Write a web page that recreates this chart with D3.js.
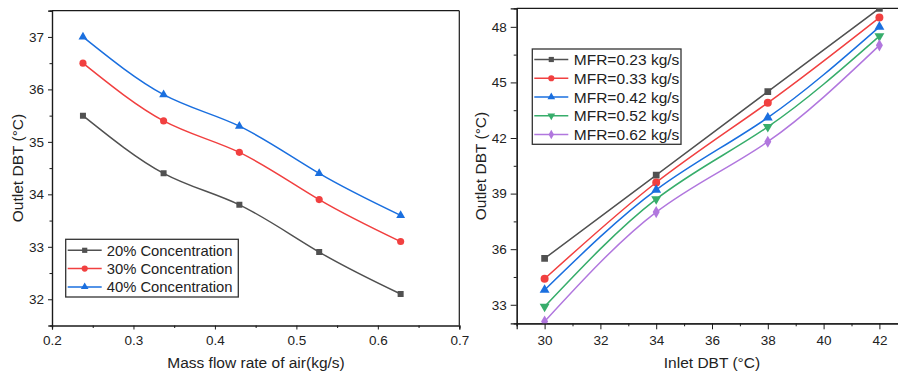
<!DOCTYPE html>
<html>
<head>
<meta charset="utf-8">
<script src="https://cdn.jsdelivr.net/npm/d3@7"></script>
<style>
  body { margin: 0; background: #fff; }
  svg { display: block; font-family: Arial, "Liberation Sans", sans-serif; }
</style>
</head>
<body>
<svg width="898" height="373"></svg>
<script>
// left panel data: outlet DBT vs mass flow rate
const flowRates = [0.238, 0.337, 0.43, 0.528, 0.628];
const conc20 = [35.5, 34.4, 33.8, 32.9, 32.1];
const conc30 = [36.5, 35.4, 34.8, 33.9, 33.1];
const conc40 = [37.0, 35.9, 35.3, 34.4, 33.6];
const concLabels = ["20% Concentration", "30% Concentration", "40% Concentration"];

// right panel data: outlet DBT vs inlet DBT
const inletDBT = [30, 34, 38, 42];
const mfr023 = [35.5, 40.0, 44.5, 49.0];
const mfr033 = [34.4, 39.6, 43.9, 48.5];
const mfr042 = [33.8, 39.2, 43.1, 48.0];
const mfr052 = [32.9, 38.7, 42.6, 47.5];
const mfr062 = [32.1, 38.0, 41.8, 47.0];
const mfrLabels = ["MFR=0.23 kg/s", "MFR=0.33 kg/s", "MFR=0.42 kg/s", "MFR=0.52 kg/s", "MFR=0.62 kg/s"];

const colors = ["#515151", "#f14040", "#1a6fdf", "#37ad6b", "#b177de"];
const symbols = [
  { type: d3.symbolSquare, size: 36, rot: 0 },
  { type: d3.symbolCircle, size: 40, rot: 0 },
  { type: d3.symbolTriangle, size: 34, rot: 0 },
  { type: d3.symbolTriangle, size: 34, rot: 180 },
  { type: d3.symbolDiamond, size: 34, rot: 0 }
];

const svg = d3.select("svg");
const axisColor = "#1a1a1a";
const textColor = "#222";

function drawPanel(cfg) {
  const x = d3.scaleLinear().domain(cfg.xDomain).range([cfg.left, cfg.right]);
  const y = d3.scaleLinear().domain(cfg.yDomain).range([cfg.bottom, cfg.top]);
  const g = svg.append("g");

  // clip for markers / lines
  g.append("clipPath").attr("id", cfg.id + "-clip")
    .append("rect")
    .attr("x", cfg.left).attr("y", cfg.top)
    .attr("width", cfg.right - cfg.left).attr("height", cfg.bottom - cfg.top);

  // frame (top + right)
  g.append("line")
    .attr("x1", cfg.left).attr("x2", cfg.right)
    .attr("y1", cfg.top).attr("y2", cfg.top)
    .attr("stroke", axisColor).attr("stroke-width", 1.2);
  g.append("line")
    .attr("x1", cfg.right).attr("x2", cfg.right)
    .attr("y1", cfg.top).attr("y2", cfg.bottom)
    .attr("stroke", axisColor).attr("stroke-width", 1.2);

  // minor ticks
  const xAxisMinor = d3.axisBottom(x).tickValues(cfg.xMinor).tickSize(cfg.minorLen).tickFormat("");
  const yAxisMinor = d3.axisLeft(y).tickValues(cfg.yMinor).tickSize(cfg.minorLen).tickFormat("");
  g.append("g").attr("transform", "translate(0," + cfg.bottom + ")").call(xAxisMinor);
  g.append("g").attr("transform", "translate(" + cfg.left + ",0)").call(yAxisMinor);

  // major axes
  const xAxis = d3.axisBottom(x).tickValues(cfg.xTicks).tickSize(cfg.majorLen).tickPadding(6).tickFormat(cfg.xFormat);
  const yAxis = d3.axisLeft(y).tickValues(cfg.yTicks).tickSize(cfg.majorLen).tickPadding(4).tickFormat(d3.format("d"));
  g.append("g").attr("transform", "translate(0," + cfg.bottom + ")").call(xAxis);
  g.append("g").attr("transform", "translate(" + cfg.left + ",0)").call(yAxis);

  g.selectAll(".domain").attr("stroke", axisColor).attr("stroke-width", 1.2);
  g.selectAll(".tick line").attr("stroke", axisColor);
  g.selectAll(".tick text")
    .attr("fill", textColor)
    .style("font-size", "13.5px")
    .style("font-family", "Arial, 'Liberation Sans', sans-serif");

  // axis titles
  g.append("text")
    .attr("x", cfg.xTitleX).attr("y", 368)
    .attr("text-anchor", "middle")
    .attr("fill", textColor)
    .style("font-size", "15.5px")
    .text(cfg.xTitle);
  g.append("text")
    .attr("transform", "translate(" + cfg.yTitleX + "," + cfg.yTitleY + ") rotate(-90)")
    .attr("text-anchor", "middle")
    .attr("fill", textColor)
    .style("font-size", "15.5px")
    .text("Outlet DBT (°C)");

  // series
  const plot = g.append("g").attr("clip-path", "url(#" + cfg.id + "-clip)");
  const line = d3.line()
    .x(d => x(d[0]))
    .y(d => y(d[1]))
    .curve(d3.curveNatural);

  cfg.series.forEach((vals, i) => {
    const pts = cfg.xs.map((xv, j) => [xv, vals[j]]);
    plot.append("path")
      .attr("d", line(pts))
      .attr("fill", "none")
      .attr("stroke", colors[i])
      .attr("stroke-width", 1.5);
    const sym = d3.symbol().type(symbols[i].type).size(symbols[i].size * cfg.markerScale);
    plot.selectAll(null)
      .data(pts)
      .enter()
      .append("path")
      .attr("d", sym)
      .attr("transform", d => "translate(" + x(d[0]) + "," + y(d[1]) + ") rotate(" + symbols[i].rot + ")")
      .attr("fill", colors[i]);
  });

  // legend
  const lg = cfg.legend;
  g.append("rect")
    .attr("x", lg.x).attr("y", lg.y)
    .attr("width", lg.w).attr("height", lg.h)
    .attr("fill", "#fff")
    .attr("stroke", "#333")
    .attr("stroke-width", 1.3);
  const key = g.selectAll(null)
    .data(cfg.labels)
    .enter()
    .append("g")
    .attr("transform", (d, i) => "translate(" + lg.x + "," + (lg.y + lg.first + i * lg.step) + ")");
  key.append("line")
    .attr("x1", 2).attr("x2", lg.lineLen)
    .attr("stroke", (d, i) => colors[i])
    .attr("stroke-width", 1.5);
  key.append("path")
    .attr("d", (d, i) => d3.symbol().type(symbols[i].type).size(symbols[i].size * 0.75)())
    .attr("transform", (d, i) => "translate(" + (lg.lineLen / 2 + 1) + ",0) rotate(" + symbols[i].rot + ")")
    .attr("fill", (d, i) => colors[i]);
  key.append("text")
    .attr("x", lg.textX)
    .attr("y", lg.fontSize * 0.36)
    .attr("fill", textColor)
    .style("font-size", lg.fontSize + "px")
    .text(d => d);
}

drawPanel({
  id: "left",
  left: 52, right: 459.3, top: 10.7, bottom: 325.5,
  xDomain: [0.2, 0.7], yDomain: [31.5, 37.5],
  xTicks: [0.2, 0.3, 0.4, 0.5, 0.6, 0.7],
  xMinor: [0.25, 0.35, 0.45, 0.55, 0.65],
  yTicks: [32, 33, 34, 35, 36, 37],
  yMinor: [31.5, 32.5, 33.5, 34.5, 35.5, 36.5, 37.5],
  xFormat: d3.format(".1f"),
  majorLen: 4, minorLen: 2.5,
  xTitle: "Mass flow rate of air(kg/s)", xTitleX: 256,
  yTitleX: 23, yTitleY: 168,
  xs: flowRates,
  series: [conc20, conc30, conc40],
  labels: concLabels,
  markerScale: 1,
  legend: { x: 65.7, y: 239.3, w: 172.6, h: 57.7, first: 11, step: 18.3, lineLen: 36, textX: 41, fontSize: 14.8 }
});

drawPanel({
  id: "right",
  left: 516.7, right: 907.3, top: 8.3, bottom: 323.3,
  xDomain: [29, 43], yDomain: [32, 49],
  xTicks: [30, 32, 34, 36, 38, 40, 42],
  xMinor: [29, 31, 33, 35, 37, 39, 41, 43],
  yTicks: [33, 36, 39, 42, 45, 48],
  yMinor: [34.5, 37.5, 40.5, 43.5, 46.5],
  xFormat: d3.format("d"),
  majorLen: 6, minorLen: 3,
  xTitle: "Inlet DBT (°C)", xTitleX: 712,
  yTitleX: 486, yTitleY: 166,
  xs: inletDBT,
  series: [mfr023, mfr033, mfr042, mfr052, mfr062],
  labels: mfrLabels,
  markerScale: 1.25,
  legend: { x: 532.3, y: 49, w: 148.7, h: 95.3, first: 10.5, step: 18.75, lineLen: 36, textX: 41.5, fontSize: 15.5 }
});
</script>
</body>
</html>
